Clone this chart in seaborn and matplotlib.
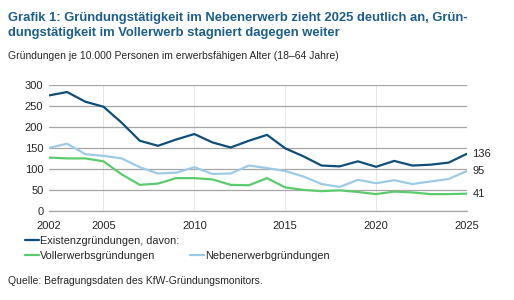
import pandas as pd
import seaborn as sns
import matplotlib.pyplot as plt
from matplotlib.lines import Line2D

years = list(range(2002, 2026))
existenz = [275, 283, 260, 248, 210, 167, 155, 170, 183, 163, 151, 167,
            181, 149, 130, 108, 106, 118, 105, 119, 108, 110, 115, 136]
voll = [127, 125, 125, 118, 87, 62, 65, 78, 78, 75, 62, 61,
        78, 56, 50, 47, 49, 45, 40, 46, 44, 40, 40, 41]
neben = [150, 160, 135, 131, 125, 104, 89, 91, 104, 88, 89, 108,
         102, 95, 82, 64, 57, 74, 66, 73, 64, 70, 76, 95]
series_names = ['Existenzgründungen, davon:', 'Vollerwerbsgründungen', 'Nebenerwerbgründungen']
colors = ['#0f4f77', '#5ccb6e', '#9dcbe6']
end_labels = ['136', '41', '95']

df = pd.DataFrame({'Jahr': years * 3,
                   'Wert': existenz + voll + neben,
                   'Reihe': [series_names[0]] * 24 + [series_names[1]] * 24 + [series_names[2]] * 24})

sns.set_style('white')
plt.rcParams['font.family'] = ['Liberation Sans', 'DejaVu Sans']

fig = plt.figure(figsize=(5.14, 3.0), dpi=100)
ax = fig.add_axes([0.0953, 0.297, 0.813, 0.42])

ax.grid(axis='y', color='#a6a6a6', linewidth=0.9)
for x in [2005, 2010, 2015, 2020]:
    ax.axvline(x, color='#e6e6e6', linewidth=0.7, zorder=0)

sns.lineplot(data=df, x='Jahr', y='Wert', hue='Reihe', hue_order=series_names,
             palette=colors, linewidth=1.6, ax=ax, legend=False)

ax.set_xlim(2002, 2025)
ax.set_ylim(0, 300)
ax.set_yticks(range(0, 301, 50))
ax.set_xticks([2002, 2005, 2010, 2015, 2020, 2025])
ax.tick_params(labelsize=8, length=0)
ax.tick_params(axis='x', pad=7)
ax.tick_params(axis='y', pad=4)
ax.set_xlabel('')
ax.set_ylabel('')
for s in ['top', 'right', 'left']:
    ax.spines[s].set_visible(False)
ax.spines['bottom'].set_color('#a6a6a6')
ax.spines['bottom'].set_linewidth(0.9)

last_vals = [existenz[-1], voll[-1], neben[-1]]
for v, lab in zip(last_vals, end_labels):
    ax.text(2025.3, v, lab, fontsize=8, va='center', ha='left')

handles = [Line2D([], [], color=colors[0], linewidth=1.6),
           Line2D([], [], color=colors[1], linewidth=1.6),
           Line2D([], [], color='none'),
           Line2D([], [], color=colors[2], linewidth=1.6)]
labels = [series_names[0], series_names[1], '', series_names[2]]
fig.legend(handles, labels, ncol=2, loc='upper left', bbox_to_anchor=(0.048, 0.214),
           frameon=False, fontsize=7.8, handlelength=1.3, handletextpad=0.1,
           columnspacing=1.0, labelspacing=0.45, borderaxespad=0, borderpad=0)

fig.text(0.016, 0.96, 'Grafik 1: Gründungstätigkeit im Nebenerwerb zieht 2025 deutlich an, Grün-\n'
         'dungstätigkeit im Vollerwerb stagniert dagegen weiter',
         fontsize=9.4, fontweight='bold', color='#1c5e8a', va='top', linespacing=1.35)
fig.text(0.016, 0.83, 'Gründungen je 10.000 Personen im erwerbsfähigen Alter (18–64 Jahre)',
         fontsize=7.5, va='top')
fig.text(0.016, 0.063, 'Quelle: Befragungsdaten des KfW-Gründungsmonitors.', fontsize=7.5, va='center')

fig.savefig('out.png', dpi=100)
